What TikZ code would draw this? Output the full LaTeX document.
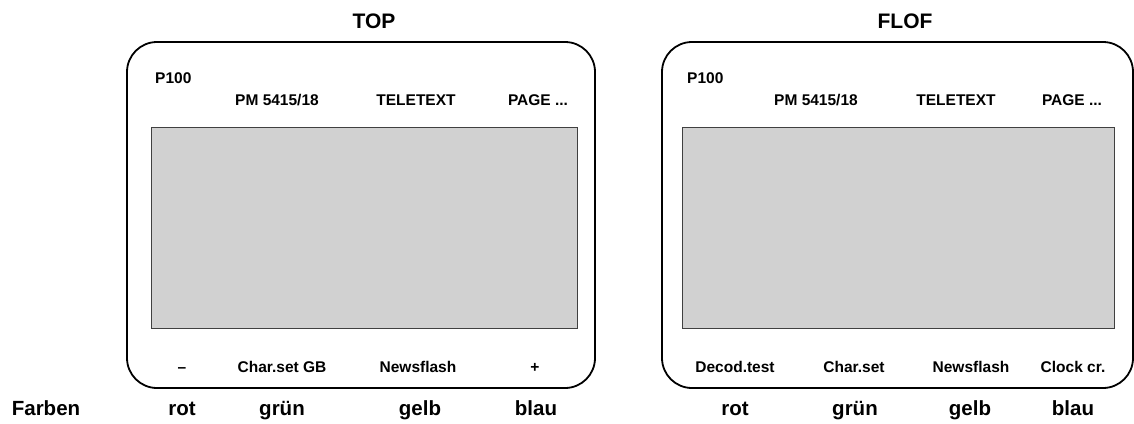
\documentclass[tikz,border=0pt]{standalone}
\usepackage{fontspec}
\setmainfont{Liberation Sans}
\begin{document}
\begin{tikzpicture}[x=1pt,y=-1pt,
  frame/.style={draw=black,line width=1.8pt,rounded corners=30pt,inner sep=0pt},
  screen/.style={draw=black!75,line width=0.9pt,fill=black!18,inner sep=0pt},
  lbl/.style={anchor=base,inner sep=0pt,font=\fontsize{15.5}{18}\selectfont\bfseries},
  col/.style={anchor=base,inner sep=0pt,font=\fontsize{20.5}{24}\selectfont\bfseries},
  ttl/.style={anchor=base,inner sep=0pt,font=\fontsize{21}{25}\selectfont\bfseries}]
\useasboundingbox (0,0) rectangle (1134,423);
% left panel
\node[frame,minimum width=468pt,minimum height=346pt] (fL) at (361,215) {};
\node[screen,minimum width=426pt,minimum height=201pt] (sL) at (364,227.5) {};
\node[ttl] (tL) at (374,28) {TOP};
\node[lbl,anchor=base west] (pL) at (155,83) {P100};
\node[lbl] (aL) at (277,105) {PM 5415/18};
\node[lbl] (bL) at (416,105) {TELETEXT};
\node[lbl] (cL) at (538,105) {PAGE ...};
\node[lbl] (dL) at (182,372) {--};
\node[lbl] (eL) at (282,372) {Char.set GB};
\node[lbl] (gL) at (418,372) {Newsflash};
\node[lbl] (hL) at (535,372) {+};
\node[col] (rL) at (182,415) {rot};
\node[col] (grL) at (282,415) {grün};
\node[col] (geL) at (420,415) {gelb};
\node[col] (blL) at (536,415) {blau};
\node[col] (farben) at (46,415) {Farben};
% right panel
\node[frame,minimum width=471pt,minimum height=346pt] (fR) at (897.5,215) {};
\node[screen,minimum width=432pt,minimum height=201pt] (sR) at (898,227.5) {};
\node[ttl] (tR) at (905,28) {FLOF};
\node[lbl,anchor=base west] (pR) at (687,83) {P100};
\node[lbl] (aR) at (816,105) {PM 5415/18};
\node[lbl] (bR) at (956,105) {TELETEXT};
\node[lbl] (cR) at (1072,105) {PAGE ...};
\node[lbl] (dR) at (735,372) {Decod.test};
\node[lbl] (eR) at (854,372) {Char.set};
\node[lbl] (gR) at (971,372) {Newsflash};
\node[lbl] (hR) at (1073,372) {Clock cr.};
\node[col] (rR) at (735,415) {rot};
\node[col] (grR) at (855,415) {grün};
\node[col] (geR) at (970,415) {gelb};
\node[col] (blR) at (1073,415) {blau};
\end{tikzpicture}
\end{document}
